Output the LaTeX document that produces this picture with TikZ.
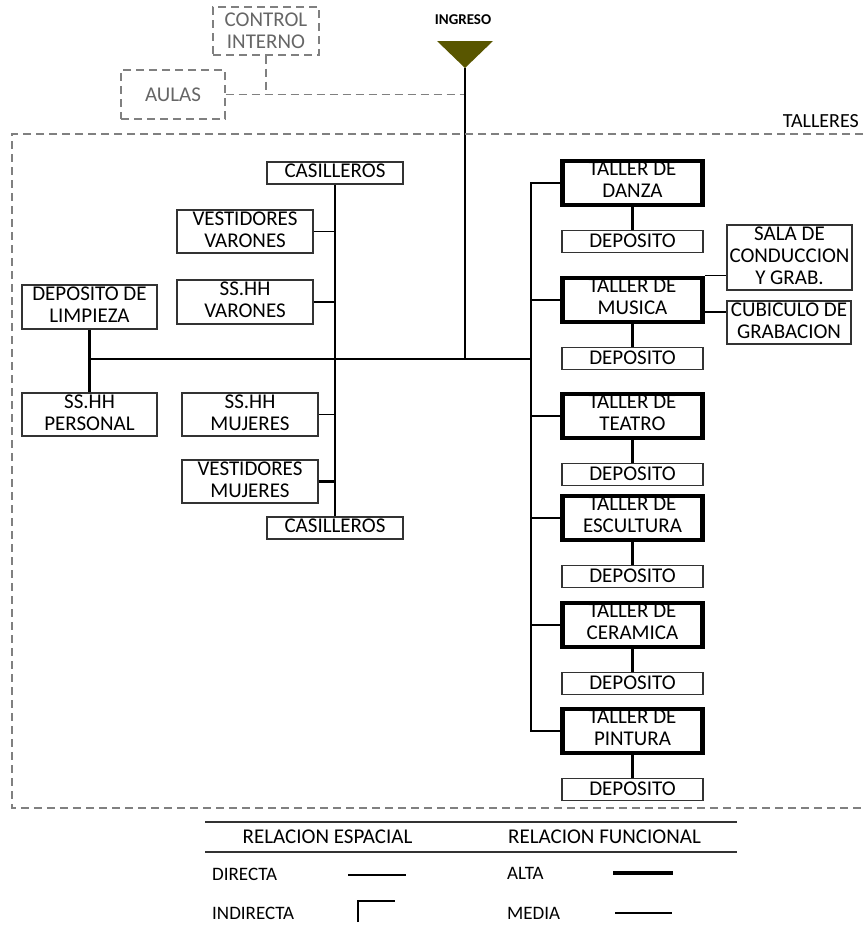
\documentclass[tikz,border=0pt]{standalone}
\usepackage{fontspec}
\setmainfont{Carlito}
\usetikzlibrary{positioning}
\definecolor{oliva}{RGB}{89,86,0}

\begin{document}
\begin{tikzpicture}[
                x=1pt, y=-1pt,
                every node/.style={inner sep=0pt, align=center, font=\fontsize{21}{21.7}\selectfont},
                caja/.style={draw=black!80, line width=1.1pt, text depth=4pt},
                taller/.style={draw, line width=4.5pt, minimum width=140pt, minimum height=44pt, text depth=7pt},
                deposito/.style={caja, minimum width=141pt, minimum height=22pt, text depth=3pt},
                gris/.style={draw=black!50, line width=1.2pt, dash pattern=on 8pt off 5pt},
                leyenda/.style={anchor=west, font=\fontsize{19}{19}\selectfont},
                media/.style={line width=1.3pt},
                fuerte/.style={line width=2.4pt},
                alta/.style={line width=4.5pt}
            ]
            \useasboundingbox (0,0) rectangle (863,926);

            % ingreso y zona exterior
            \node[gris, text=black!60, minimum width=106pt, minimum height=48pt] (control) at (266,31) {CONTROL\\INTERNO};
            \node[gris, text=black!60, minimum width=104pt, minimum height=49pt] (aulas) at (173,94.5) {AULAS};
            \node[font=\fontsize{15}{15}\selectfont\bfseries] (ingreso) at (463,20) {INGRESO};
            \fill[oliva] (437,41) -- (493,41) -- (465,68) coordinate (acceso) -- cycle;
            \coordinate (eje) at (465,359);
            \coordinate (rs) at (531,359);

            \draw[gris] (aulas.east) -- (aulas.east -| acceso);
            \draw[gris] (control.south) -- (control.south |- aulas.east);
            \draw[media] (acceso) -- (eje);

            % talleres
            \draw[gris] (863,134) -- (12,134) -- (12,808) -- (863,808);
            \node[anchor=east, font=\fontsize{20}{20}\selectfont] (talleres) at (859,121) {TALLERES};

            \node[caja, minimum width=136pt, minimum height=22pt] (casA) at (335,173) {CASILLEROS};
            \node[caja, minimum width=136pt, minimum height=43pt] (vv) at (245,231.5) {VESTIDORES\\VARONES};
            \node[caja, minimum width=136pt, minimum height=44pt] (svv) at (245,302) {SS.HH\\VARONES};
            \node[caja, minimum width=135pt, minimum height=44pt] (ddl) at (89.5,307) {DEPOSITO DE\\LIMPIEZA};
            \node[caja, minimum width=135pt, minimum height=43pt] (ssp) at (89.5,414.5) {SS.HH\\PERSONAL};
            \node[caja, minimum width=136pt, minimum height=43pt] (ssm) at (250,414.5) {SS.HH\\MUJERES};
            \node[caja, minimum width=136pt, minimum height=43pt] (vm) at (250,481.5) {VESTIDORES\\MUJERES};
            \node[caja, minimum width=136pt, minimum height=22pt] (casB) at (335,528) {CASILLEROS};

            \draw[fuerte] (casA.south) -- (casB.north);
            \draw[media] (vv.east) -- (vv.east -| casA.south);
            \draw[media] (svv.east) -- (svv.east -| casA.south);
            \draw[media] (ssm.east) -- (ssm.east -| casA.south);
            \draw[fuerte] (vm.east) -- (vm.east -| casA.south);
            \draw[fuerte] (ddl.south) -- (ssp.north);
            \draw[media] (ddl.south |- rs) -- (rs);

            \node[taller] (danza) at (632.5,183) {TALLER DE\\DANZA};
            \node[deposito, below=23pt of danza] (dep1) {DEPOSITO};
            \node[taller] (musica) at (632.5,300) {TALLER DE\\MUSICA};
            \node[deposito, below=23pt of musica] (dep2) {DEPOSITO};
            \node[taller] (teatro) at (632.5,416) {TALLER DE\\TEATRO};
            \node[deposito, below=23pt of teatro] (dep3) {DEPOSITO};
            \node[taller] (escultura) at (632.5,518) {TALLER DE\\ESCULTURA};
            \node[deposito, below=23pt of escultura] (dep4) {DEPOSITO};
            \node[taller] (ceramica) at (632.5,625) {TALLER DE\\CERAMICA};
            \node[deposito, below=23pt of ceramica] (dep5) {DEPOSITO};
            \node[taller] (pintura) at (632.5,731) {TALLER DE\\PINTURA};
            \node[deposito, below=23pt of pintura] (dep6) {DEPOSITO};

            \node[caja, minimum width=125pt, minimum height=65pt] (sala) at (789.5,257.5) {SALA DE\\CONDUCCION\\Y GRAB.};
            \node[caja, minimum width=124pt, minimum height=43pt] (cubiculo) at (789,322.5) {CUBICULO DE\\GRABACION};

            \draw[fuerte] (danza.west) -- (danza.west -| rs) -- (pintura.west -| rs) -- (pintura.west);
            \draw[fuerte] (musica.west) -- (musica.west -| rs);
            \draw[fuerte] (teatro.west) -- (teatro.west -| rs);
            \draw[fuerte] (escultura.west) -- (escultura.west -| rs);
            \draw[fuerte] (ceramica.west) -- (ceramica.west -| rs);
            \draw[fuerte] (danza.south) -- (dep1.north);
            \draw[fuerte] (musica.south) -- (dep2.north);
            \draw[fuerte] (teatro.south) -- (dep3.north);
            \draw[fuerte] (escultura.south) -- (dep4.north);
            \draw[fuerte] (ceramica.south) -- (dep5.north);
            \draw[fuerte] (pintura.south) -- (dep6.north);
            \draw[media] (musica.north east) -- (musica.north east -| sala.west);
            \draw[fuerte] ([yshift=-12pt]musica.east) -- ([yshift=-12pt]musica.east -| cubiculo.west);

            % leyenda
            \draw[media, black!80] (205,822) -- (737,822);
            \draw[media, black!80] (205,852) -- (737,852);
            \node (espacial) at (327.5,836.5) {RELACION ESPACIAL};
            \node (funcional) at (604.5,836.5) {RELACION FUNCIONAL};
            \node[leyenda] (directa) at (212,874) {DIRECTA};
            \node[leyenda] (indirecta) at (212,913) {INDIRECTA};
            \node[leyenda] (altaN) at (507,873) {ALTA};
            \node[leyenda] (mediaN) at (507,913) {MEDIA};
            \draw[media] (348,875) -- (406,875);
            \draw[fuerte] (358,922) -- (358,901) -- (395,901);
            \draw[alta] (613,873) -- (673,873);
            \draw[media] (615,913) -- (672,913);

        \end{tikzpicture}
\end{document}
